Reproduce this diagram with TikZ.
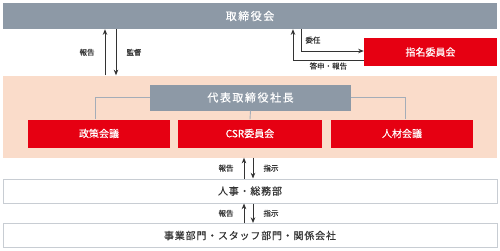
\documentclass[tikz,border=0pt]{standalone}
\usepackage{fontspec}
\setmainfont{Noto Sans CJK JP}[FakeBold=0.4]
\newfontfamily\spacedfont{Noto Sans CJK JP}[FakeBold=0.4, LetterSpace=14]
\newfontfamily\deptfont{Noto Sans CJK JP}[FakeBold=0.4, LetterSpace=8]
\usepackage{tikz}
\usetikzlibrary{positioning,arrows.meta}

\definecolor{boardgray}{HTML}{8D99A6}
\definecolor{jpred}{HTML}{E60012}
\definecolor{peach}{HTML}{FADCCA}
\definecolor{edgegray}{HTML}{C8CDD3}
\definecolor{ink}{HTML}{333333}

\begin{document}
\begin{tikzpicture}[
  x=1pt, y=-1pt,
  >={Stealth[length=2mm, width=1.6mm]},
  board/.style={fill=boardgray, text=white, font=\spacedfont\fontsize{11}{13}\selectfont,
                minimum height=26pt, inner sep=0pt},
  comm/.style={fill=jpred, text=white, font=\fontsize{10}{12}\selectfont,
               minimum height=28pt, inner sep=0pt},
  dept/.style={draw=edgegray, line width=1pt, fill=white, text=ink,
               font=\deptfont\fontsize{10}{12}\selectfont, minimum width=494pt,
               minimum height=24pt, inner sep=0pt},
  tree/.style={draw=boardgray!80, line width=0.9pt},
  rel/.style={->, draw=ink, line width=0.9pt},
  lbl/.style={font=\fontsize{7.5}{9}\selectfont, text=ink, inner sep=1pt}
]
\useasboundingbox (0,0) rectangle (500,250);

% board and nomination committee
\node[board, minimum width=494pt] (bod) at (250,16) {取締役会};
\node[comm, minimum width=133pt] (nom) at (430.5,52) {指名委員会};

% executive panel
\node[fill=peach, minimum width=494pt, minimum height=82pt, inner sep=0pt] (panel) at (250,116.5) {};
\node[board, minimum width=201pt] (ceo) at (250.5,97.5) {代表取締役社長};
\node[comm, minimum width=142pt] (policy) at (99,133.5) {政策会議};
\node[comm, minimum width=144pt] (csr)    at (250,133.5) {CSR委員会};
\node[comm, minimum width=142pt] (hr)     at (402,133.5) {人材会議};

\draw[tree] (ceo.west) -| ([xshift=-4pt]policy.north);
\draw[tree] (ceo.east) -| ([xshift=3pt]hr.north);
\draw[tree] (ceo.south) -- (csr.north);

% departments
\node[dept] (ga)  at (250,191) {人事・総務部};
\node[dept] (ops) at (250,235.5) {事業部門・スタッフ部門・関係会社};

% reporting lines
\draw[rel] ([xshift=-145pt]panel.north) -- ([xshift=-145pt]bod.south) node[lbl, midway, left=9pt] {報告};
\draw[rel] ([xshift=-134pt]bod.south) -- ([xshift=-134pt]panel.north) node[lbl, midway, right=9pt] {監督};

\draw[rel] ([xshift=51pt]bod.south) |- ([yshift=1pt]nom.west) node[lbl, pos=0.25, right=3pt] {委任};
\draw[rel] ([yshift=-8pt]nom.west) -| ([xshift=43pt]bod.south) node[lbl, pos=0.25, below=1pt] {答申・報告};

\draw[rel] ([xshift=-6pt]ga.north) -- ([xshift=-6pt]panel.south) node[lbl, midway, left=9pt] {報告};
\draw[rel] ([xshift=3pt]panel.south) -- ([xshift=3pt]ga.north) node[lbl, midway, right=9pt] {指示};
\draw[rel] ([xshift=-6pt]ops.north) -- ([xshift=-6pt]ga.south) node[lbl, midway, left=9pt] {報告};
\draw[rel] ([xshift=3pt]ga.south) -- ([xshift=3pt]ops.north) node[lbl, midway, right=9pt] {指示};
\end{tikzpicture}
\end{document}
